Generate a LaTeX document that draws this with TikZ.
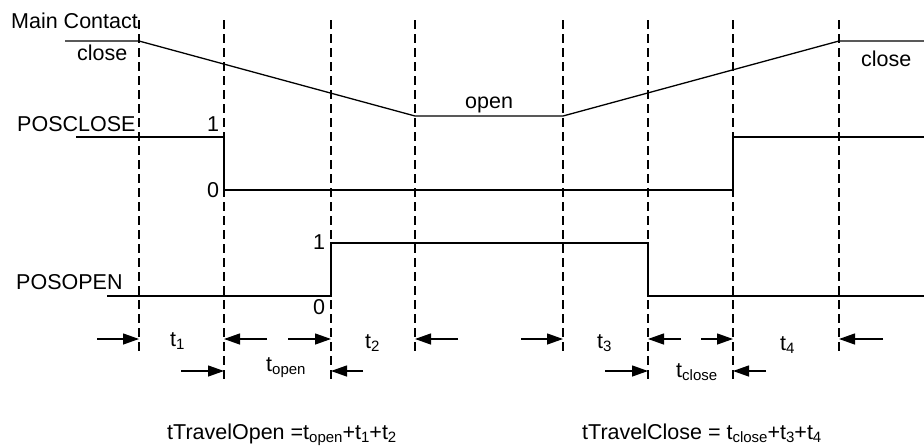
\documentclass[tikz,border=0pt]{standalone}
\usepackage{fontspec}
\setmainfont{Liberation Sans}
\usetikzlibrary{arrows.meta}
\newcommand{\sbs}[1]{\raisebox{-3.5pt}{\fontsize{15}{15}\selectfont #1}}
\begin{document}
\begin{tikzpicture}[x=1pt,y=-1pt,
  sig/.style={line width=1.3pt},
  guide/.style={line width=1.1pt, dash pattern=on 9pt off 5pt},
  dimarrow/.style={line width=1.3pt,-{Triangle[length=16pt,width=11pt]}},
  lbl/.style={inner sep=0pt, anchor=base west, font=\fontsize{21.5}{24}\selectfont}]
\useasboundingbox (0,0) rectangle (924,445);

% guide lines
\foreach \i/\x/\yb in {1/139/353,2/224/381,3/331/381,4/415/353,5/563/353,6/648/381,7/733/381,8/839/353}{
  \coordinate (gt\i) at (\x,20);
  \coordinate (gb\i) at (\x,\yb);
  \draw[guide] (gt\i) -- (gb\i);
}

% main contact
\coordinate (mc0) at (65,41);
\coordinate (mc1) at (139,41);
\coordinate (mc2) at (415,116);
\coordinate (mc3) at (563,116);
\coordinate (mc4) at (839,41);
\coordinate (mc5) at (924,41);
\draw[sig] (mc0) -- (mc1) -- (mc2) -- (mc3) -- (mc4) -- (mc5);

% POSCLOSE
\coordinate (pc0) at (76,137);
\coordinate (pc1) at (224,137);
\coordinate (pc2) at (224,190);
\coordinate (pc3) at (733,190);
\coordinate (pc4) at (733,137);
\coordinate (pc5) at (924,137);
\draw[sig] (pc0) -- (pc1) -- (pc2) -- (pc3) -- (pc4) -- (pc5);

% POSOPEN
\coordinate (po0) at (107,296);
\coordinate (po1) at (331,296);
\coordinate (po2) at (331,243);
\coordinate (po3) at (648,243);
\coordinate (po4) at (648,296);
\coordinate (po5) at (924,296);
\draw[sig] (po0) -- (po1) -- (po2) -- (po3) -- (po4) -- (po5);

% labels
\node[lbl] (lmain) at (11,28) {Main Contact};
\node[lbl] (lclose1) at (77,60) {close};
\node[lbl] (lopen) at (465,108) {open};
\node[lbl] (lclose2) at (861,66) {close};
\node[lbl] (lposclose) at (17,131) {POSCLOSE};
\node[lbl] (lpc1) at (207,131) {1};
\node[lbl] (lpc0) at (207,197) {0};
\node[lbl] (lposopen) at (16,289) {POSOPEN};
\node[lbl] (lpo1) at (313,249) {1};
\node[lbl] (lpo0) at (313,314) {0};

% dimension arrows, row 1
\foreach \n/\xa/\xb in {1/97/139,2/267/224,3/288/331,4/458/415,5/521/563,6/681/648,7/701/733,8/883/839}{
  \coordinate (ra\n) at (\xa,339);
  \coordinate (rb\n) at (\xb,339);
  \draw[dimarrow] (ra\n) -- (rb\n);
}
% row 2
\foreach \n/\xa/\xb in {1/181/224,2/363/331,3/605/648,4/766/733}{
  \coordinate (sa\n) at (\xa,371);
  \coordinate (sb\n) at (\xb,371);
  \draw[dimarrow] (sa\n) -- (sb\n);
}

\node[lbl] (lt1) at (170,346) {t\sbs{1}};
\node[lbl] (lt2) at (365,348) {t\sbs{2}};
\node[lbl] (lt3) at (597,348) {t\sbs{3}};
\node[lbl] (lt4) at (780,350) {t\sbs{4}};
\node[lbl] (ltopen) at (266,371) {t\sbs{open}};
\node[lbl] (ltclose) at (676,377) {t\sbs{close}};

\node[lbl] (fopen) at (167,439) {tTravelOpen =t\sbs{open}+t\sbs{1}+t\sbs{2}};
\node[lbl] (fclose) at (582,439) {tTravelClose = t\sbs{close}+t\sbs{3}+t\sbs{4}};
\end{tikzpicture}
\end{document}
